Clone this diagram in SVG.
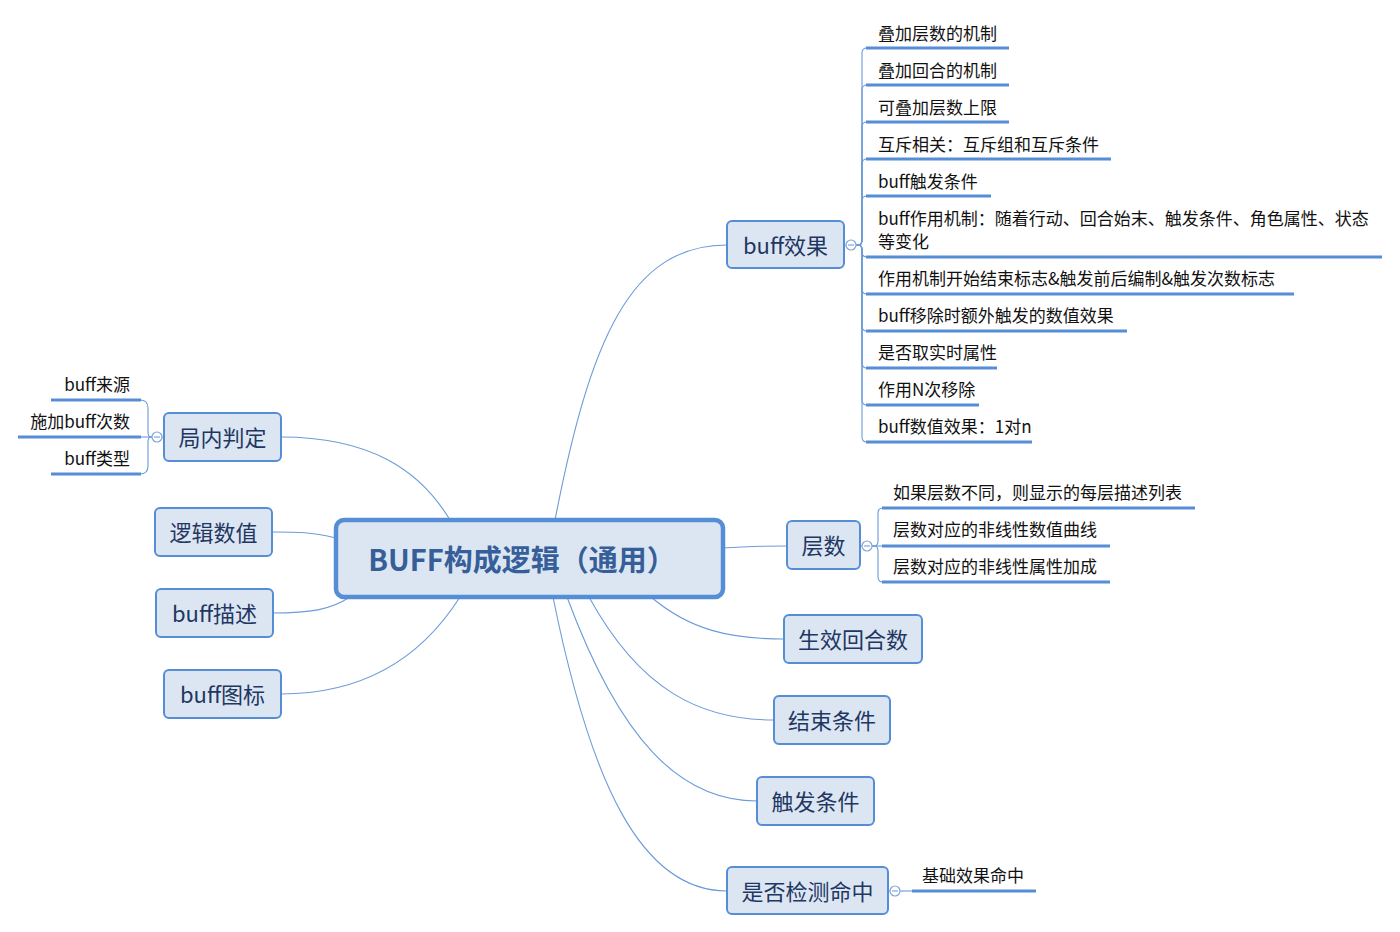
<svg xmlns="http://www.w3.org/2000/svg" width="1400" height="932" viewBox="0 0 1400 932">
<style>
.bg{fill:#ffffff}
.node{fill:#DCE6F2;stroke:#558ED5;stroke-width:2}
.center{fill:#DCE6F2;stroke:#558ED5;stroke-width:4.5}
.ntext{font-family:"Noto Sans CJK SC","Microsoft YaHei",sans-serif;font-size:22px;fill:#1F3763;text-anchor:middle;dominant-baseline:central}
.ctext{font-family:"Noto Sans CJK SC","Microsoft YaHei",sans-serif;font-size:29px;font-weight:bold;fill:#365F99;text-anchor:middle;dominant-baseline:central}
.stext{font-family:"Noto Sans CJK SC","Microsoft YaHei",sans-serif;font-size:17px;fill:#111111;dominant-baseline:central}
.ul{stroke:#558ED5;stroke-width:3;fill:none}
.conn{stroke:#6C9BDA;stroke-width:1.1;fill:none}
.col{fill:#ffffff;stroke:#7FA5D8;stroke-width:1.2}
.minus{stroke:#7FA5D8;stroke-width:1.2}
</style>
<rect class="bg" x="0" y="0" width="1400" height="932"/>
<g id="connectors">
<path class="conn" d="M555,520 C590,340 630,245 727,245"/>
<path class="conn" d="M450,520 C420,470 370,437 281,437"/>
<path class="conn" d="M336,538 C310,532 300,532 272,532"/>
<path class="conn" d="M350,597 C330,610 310,613 273,613"/>
<path class="conn" d="M460,597 C420,660 360,694 281,694"/>
<path class="conn" d="M723,548 C750,546 760,546 787,546"/>
<path class="conn" d="M651,597 C690,630 730,639 784,639"/>
<path class="conn" d="M589,597 C640,690 700,720 774,720"/>
<path class="conn" d="M567,597 C620,740 680,801 757,801"/>
<path class="conn" d="M553,597 C590,780 640,891 727,891"/>
<path class="conn" d="M844,245 H846"/>
<path class="conn" d="M856,245 H858 Q862,245 862,240 V53 Q862,48 867,48"/>
<path class="conn" d="M856,245 H858 Q862,245 862,240 V90 Q862,85 867,85"/>
<path class="conn" d="M856,245 H858 Q862,245 862,240 V127 Q862,122 867,122"/>
<path class="conn" d="M856,245 H858 Q862,245 862,240 V164 Q862,159 867,159"/>
<path class="conn" d="M856,245 H858 Q862,245 862,240 V201 Q862,196 867,196"/>
<path class="conn" d="M856,245 H858 Q862,245 862,250 V252 Q862,257 867,257"/>
<path class="conn" d="M856,245 H858 Q862,245 862,250 V289 Q862,294 867,294"/>
<path class="conn" d="M856,245 H858 Q862,245 862,250 V326 Q862,331 867,331"/>
<path class="conn" d="M856,245 H858 Q862,245 862,250 V363 Q862,368 867,368"/>
<path class="conn" d="M856,245 H858 Q862,245 862,250 V400 Q862,405 867,405"/>
<path class="conn" d="M856,245 H858 Q862,245 862,250 V437 Q862,442 867,442"/>
<path class="conn" d="M164,437 H162"/>
<path class="conn" d="M152,437 H151 Q148,437 148,432 V408 Q148,400 140,400"/>
<path class="conn" d="M152,437 H140"/>
<path class="conn" d="M152,437 H151 Q148,437 148,442 V466 Q148,474 140,474"/>
<path class="conn" d="M860,546 H862"/>
<path class="conn" d="M872,546 H874 Q878,546 878,541 V513 Q878,508 883,508"/>
<path class="conn" d="M872,546 H883"/>
<path class="conn" d="M872,546 H874 Q878,546 878,551 V577 Q878,582 883,582"/>
<path class="conn" d="M888,891 H890"/>
<path class="conn" d="M900,891 H912"/>
</g>
<g id="center">
<rect class="center" x="336" y="520" width="387" height="77" rx="8"/>
<text class="ctext" x="522" y="558">BUFF构成逻辑（通用）</text>
</g>
<g id="buff-effect">
<rect class="node" x="727" y="221" width="117" height="47" rx="5"/>
<text class="ntext" x="785.5" y="244">buff效果</text>
<circle class="col" cx="851" cy="245" r="5"/>
<line class="minus" x1="848" y1="245" x2="854" y2="245"/>
</g>
<g id="be-1"><text class="stext" x="878" y="32">叠加层数的机制</text><line class="ul" x1="866" y1="48" x2="1009" y2="48"/></g>
<g id="be-2"><text class="stext" x="878" y="69">叠加回合的机制</text><line class="ul" x1="866" y1="85" x2="1009" y2="85"/></g>
<g id="be-3"><text class="stext" x="878" y="106">可叠加层数上限</text><line class="ul" x1="866" y1="122" x2="1009" y2="122"/></g>
<g id="be-4"><text class="stext" x="878" y="143">互斥相关：互斥组和互斥条件</text><line class="ul" x1="866" y1="159" x2="1111" y2="159"/></g>
<g id="be-5"><text class="stext" x="878" y="180">buff触发条件</text><line class="ul" x1="866" y1="196" x2="991" y2="196"/></g>
<g id="be-6"><text class="stext" x="878" y="217">buff作用机制：随着行动、回合始末、触发条件、角色属性、状态</text><text class="stext" x="878" y="240">等变化</text><line class="ul" x1="866" y1="257" x2="1382" y2="257"/></g>
<g id="be-7"><text class="stext" x="878" y="277">作用机制开始结束标志&amp;触发前后编制&amp;触发次数标志</text><line class="ul" x1="866" y1="294" x2="1294" y2="294"/></g>
<g id="be-8"><text class="stext" x="878" y="314">buff移除时额外触发的数值效果</text><line class="ul" x1="866" y1="331" x2="1127" y2="331"/></g>
<g id="be-9"><text class="stext" x="878" y="351">是否取实时属性</text><line class="ul" x1="866" y1="368" x2="997" y2="368"/></g>
<g id="be-10"><text class="stext" x="878" y="388">作用N次移除</text><line class="ul" x1="866" y1="405" x2="979" y2="405"/></g>
<g id="be-11"><text class="stext" x="878" y="425">buff数值效果：1对n</text><line class="ul" x1="866" y1="442" x2="1032" y2="442"/></g>
<g id="in-game">
<rect class="node" x="164" y="413" width="117" height="48" rx="5"/>
<text class="ntext" x="222.5" y="436">局内判定</text>
<circle class="col" cx="157" cy="437" r="5"/>
<line class="minus" x1="154" y1="437" x2="160" y2="437"/>
</g>
<g id="ig-1"><text class="stext" x="130" y="383" text-anchor="end">buff来源</text><line class="ul" x1="51" y1="400" x2="141" y2="400"/></g>
<g id="ig-2"><text class="stext" x="130" y="420" text-anchor="end">施加buff次数</text><line class="ul" x1="18" y1="437" x2="141" y2="437"/></g>
<g id="ig-3"><text class="stext" x="130" y="457" text-anchor="end">buff类型</text><line class="ul" x1="51" y1="474" x2="141" y2="474"/></g>
<g id="logic-value">
<rect class="node" x="155" y="508" width="117" height="48" rx="5"/>
<text class="ntext" x="213.5" y="531">逻辑数值</text>
</g>
<g id="buff-desc">
<rect class="node" x="156" y="589" width="117" height="48" rx="5"/>
<text class="ntext" x="214.5" y="612">buff描述</text>
</g>
<g id="buff-icon">
<rect class="node" x="164" y="670" width="117" height="48" rx="5"/>
<text class="ntext" x="222.5" y="693">buff图标</text>
</g>
<g id="layers">
<rect class="node" x="787" y="521" width="73" height="48" rx="5"/>
<text class="ntext" x="823.5" y="544">层数</text>
<circle class="col" cx="867" cy="546" r="5"/>
<line class="minus" x1="864" y1="546" x2="870" y2="546"/>
</g>
<g id="ly-1"><text class="stext" x="893" y="491">如果层数不同，则显示的每层描述列表</text><line class="ul" x1="882" y1="508" x2="1195" y2="508"/></g>
<g id="ly-2"><text class="stext" x="893" y="528">层数对应的非线性数值曲线</text><line class="ul" x1="882" y1="546" x2="1110" y2="546"/></g>
<g id="ly-3"><text class="stext" x="893" y="565">层数对应的非线性属性加成</text><line class="ul" x1="882" y1="582" x2="1110" y2="582"/></g>
<g id="rounds">
<rect class="node" x="784" y="615" width="138" height="48" rx="5"/>
<text class="ntext" x="853" y="638">生效回合数</text>
</g>
<g id="end-cond">
<rect class="node" x="774" y="696" width="116" height="48" rx="5"/>
<text class="ntext" x="832" y="719">结束条件</text>
</g>
<g id="trigger-cond">
<rect class="node" x="757" y="777" width="117" height="48" rx="5"/>
<text class="ntext" x="815.5" y="800">触发条件</text>
</g>
<g id="hit-check">
<rect class="node" x="727" y="867" width="161" height="47" rx="5"/>
<text class="ntext" x="807.5" y="890">是否检测命中</text>
<circle class="col" cx="895" cy="891" r="5"/>
<line class="minus" x1="892" y1="891" x2="898" y2="891"/>
</g>
<g id="hc-1"><text class="stext" x="922" y="874">基础效果命中</text><line class="ul" x1="912" y1="891" x2="1036" y2="891"/></g>
</svg>
